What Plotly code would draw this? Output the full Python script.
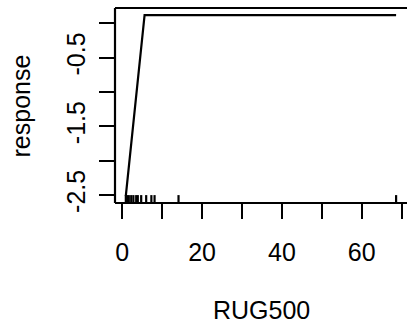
import plotly.graph_objects as go

# Data
line_x = [0.9, 5.6, 68.6]
line_y = [-2.51, 0.118, 0.118]
rug_x = [0.9, 1.25, 1.65, 2.25, 2.8, 3.5, 3.9, 4.75, 6.0, 7.3, 8.1, 14.1, 68.6]

x_tickvals = [0, 10, 20, 30, 40, 50, 60, 70]
x_ticktext = ["0", "", "20", "", "40", "", "60", ""]
y_tickvals = [-2.5, -2.0, -1.5, -1.0, -0.5, 0.0]
y_ticktext = ["-2.5", "", "-1.5", "", "-0.5", ""]

x_range = [-1.81, 71.33]
y_range = [-2.615, 0.223]
rug_len = 0.115  # in y data units

FONT = "Liberation Sans, Arial, sans-serif"
FS = 25

rx, ry = [], []
for v in rug_x:
    rx += [v, v, None]
    ry += [y_range[0], y_range[0] + rug_len, None]

fig = go.Figure()
fig.add_trace(go.Scatter(x=rx, y=ry, mode="lines",
                         line=dict(color="black", width=2.2), hoverinfo="skip"))
fig.add_trace(go.Scatter(x=line_x, y=line_y, mode="lines",
                         line=dict(color="black", width=2.2)))

# plot box (left, top, bottom) in paper coordinates
for (x0, y0, x1, y1) in [(0, 0, 0, 1), (0, 1, 1, 1), (0, 0, 1, 0)]:
    fig.add_shape(type="line", xref="paper", yref="paper",
                  x0=x0, y0=y0, x1=x1, y1=y1,
                  line=dict(color="black", width=2.2))

fig.update_layout(
    width=407, height=325,
    margin=dict(l=115, r=0, t=8, b=122),
    paper_bgcolor="white", plot_bgcolor="white",
    showlegend=False,
    font=dict(family=FONT, size=FS, color="black"),
    xaxis=dict(range=x_range, tickvals=x_tickvals, ticktext=x_ticktext,
               ticks="outside", ticklen=15, tickwidth=2.2, tickcolor="black",
               showgrid=False, zeroline=False, showline=False,
               ticklabelstandoff=12),
    yaxis=dict(range=y_range, tickvals=y_tickvals, ticktext=y_ticktext,
               ticks="outside", ticklen=15, tickwidth=2.2, tickcolor="black",
               showgrid=False, zeroline=False, showline=False,
               tickangle=-90, ticklabelstandoff=4),
    annotations=[
        dict(text="RUG500", xref="paper", yref="paper", x=0.5, y=-0.547,
             xanchor="center", yanchor="middle", showarrow=False,
             font=dict(family=FONT, size=FS, color="black")),
        dict(text="response", xref="paper", yref="paper", x=-0.322, y=0.5,
             xanchor="center", yanchor="middle", showarrow=False, textangle=-90,
             font=dict(family=FONT, size=FS, color="black")),
    ],
)

fig.write_html("out.html")
